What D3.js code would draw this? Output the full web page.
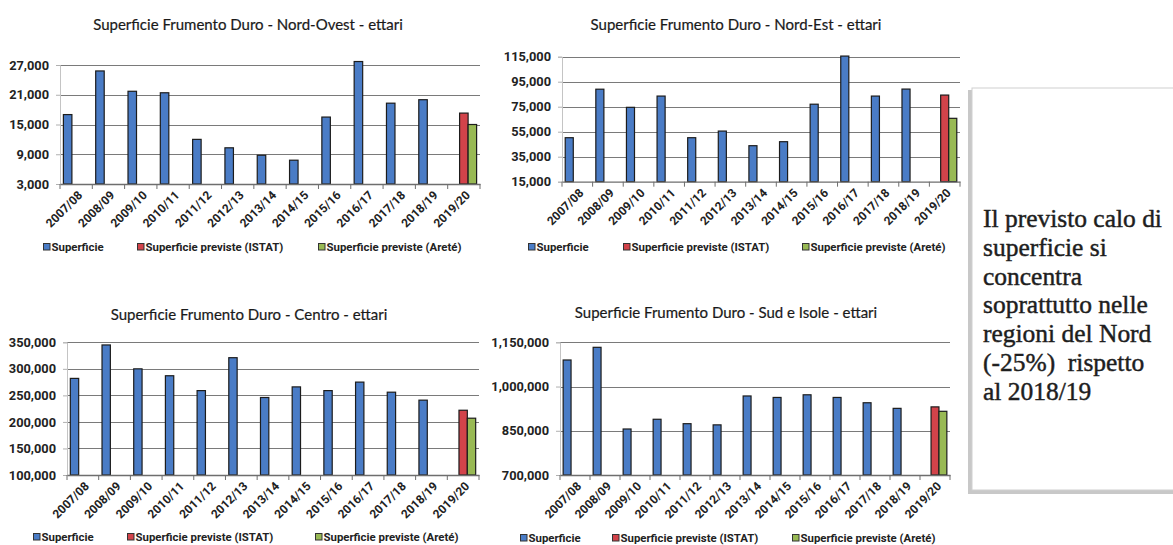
<!DOCTYPE html>
<html>
<head>
<meta charset="utf-8">
<script src="https://cdn.jsdelivr.net/npm/d3@7"></script>
<style>
  html, body { margin: 0; padding: 0; background: #ffffff; }
  svg { display: block; }
</style>
</head>
<body>
<svg id="chart" width="1173" height="545"></svg>
<script>
// Campaigns on the category axis
const categories = ["2007/08","2008/09","2009/10","2010/11","2011/12","2012/13","2013/14",
                    "2014/15","2015/16","2016/17","2017/18","2018/19","2019/20"];
const seriesNames = ["Superficie", "Superficie previste (ISTAT)", "Superficie previste (Areté)"];

// Durum wheat area (hectares) by macro-area; last campaign only has forecasts
const nordOvest      = [17000, 25800, 21700, 21400, 12000, 10300, 8800, 7800, 16500, 27700, 19300, 20000, null];
const nordOvestIstat = 17300;
const nordOvestArete = 15000;
const nordOvestTicks = [3000, 9000, 15000, 21000, 27000];

const nordEst        = [50200, 89000, 74500, 83500, 50200, 55500, 43800, 47000, 77000, 115500, 83500, 89100, null];
const nordEstIstat   = 84300;
const nordEstArete   = 65700;
const nordEstTicks   = [15000, 35000, 55000, 75000, 95000, 115000];

const centro         = [282000, 345000, 300000, 287000, 259000, 321000, 246000, 266000, 259000, 275000, 256000, 241000, null];
const centroIstat    = 222000;
const centroArete    = 207000;
const centroTicks    = [100000, 150000, 200000, 250000, 300000, 350000];

const sudIsole       = [1090000, 1133000, 856000, 889000, 874000, 870000, 968000, 963000, 972000, 963000, 945000, 926000, null];
const sudIsoleIstat  = 931000;
const sudIsoleArete  = 916000;
const sudIsoleTicks  = [700000, 850000, 1000000, 1150000];

const noteLines = ["Il previsto calo di", "superficie si", "concentra", "soprattutto nelle",
                   "regioni del Nord", "(-25%)  rispetto", "al 2018/19"];

const seriesColors = ["#4a7cc6", "#d2434a", "#98b954"];

// Panel placement on the page
const panels = [
  { title: "Superficie Frumento Duro - Nord-Ovest - ettari", values: nordOvest, istat: nordOvestIstat, arete: nordOvestArete, ticks: nordOvestTicks,
    x0: 60, x1: 480, yTop: 65, yBase: 184, titleX: 248, titleY: 30, legendY: 247, legendX: [43, 137, 318] },
  { title: "Superficie Frumento Duro - Nord-Est - ettari", values: nordEst, istat: nordEstIstat, arete: nordEstArete, ticks: nordEstTicks,
    x0: 562, x1: 960, yTop: 56.7, yBase: 181.7, titleX: 736, titleY: 30, legendY: 247, legendX: [528, 623, 802] },
  { title: "Superficie Frumento Duro - Centro - ettari", values: centro, istat: centroIstat, arete: centroArete, ticks: centroTicks,
    x0: 67, x1: 479, yTop: 342.3, yBase: 475, titleX: 249, titleY: 320, legendY: 537, legendX: [33, 127, 315] },
  { title: "Superficie Frumento Duro - Sud e Isole - ettari", values: sudIsole, istat: sudIsoleIstat, arete: sudIsoleArete, ticks: sudIsoleTicks,
    x0: 560, x1: 950, yTop: 342.3, yBase: 475, titleX: 726, titleY: 318, legendY: 538, legendX: [520, 612, 792] }
];

const svg = d3.select("#chart");
const TITLE_FONT = "Lato, 'Open Sans', sans-serif";
const LABEL_FONT = "Roboto, 'Open Sans', sans-serif";

// Side note box
const box = svg.append("g");
box.append("rect").attr("x", 968).attr("y", 90).attr("width", 220).attr("height", 404)
  .attr("fill", "#9a9a9a").attr("opacity", 0.55);
box.append("rect").attr("x", 972).attr("y", 88).attr("width", 210).attr("height", 402)
  .attr("fill", "#ffffff").attr("stroke", "#cfcfcf").attr("stroke-width", 1);

const note = box.append("text")
  .attr("font-family", "'Liberation Serif', 'DejaVu Serif', serif")
  .attr("fill", "#1e1e1e")
  .attr("stroke", "#1e1e1e").attr("stroke-width", 0.45)
  .style("white-space", "pre");
noteLines.forEach((line, i) => {
  note.append("tspan").attr("x", 983).attr("y", 227 + i * 28.8).text(line);
});
// size the note so its first line spans the box width
note.attr("font-size", 20);
const firstLen = note.select("tspan").node().getComputedTextLength();
note.attr("font-size", 20 * 179 / firstLen);

function drawPanel(p) {
  const g = svg.append("g");

  const rows = [];
  categories.forEach((c, i) => {
    if (p.values[i] != null) rows.push({ cat: c, series: seriesNames[0], value: p.values[i] });
  });
  const last = categories[categories.length - 1];
  rows.push({ cat: last, series: seriesNames[1], value: p.istat });
  rows.push({ cat: last, series: seriesNames[2], value: p.arete });

  const x = d3.scaleBand().domain(categories).range([p.x0, p.x1])
    .paddingInner(0.21).paddingOuter(0.105);
  const xs = d3.scaleBand().domain(seriesNames).range([0, x.bandwidth()]);
  const y = d3.scaleLinear().domain([p.ticks[0], p.ticks[p.ticks.length - 1]]).range([p.yBase, p.yTop]);

  // title
  g.append("text").attr("x", p.titleX).attr("y", p.titleY)
    .attr("text-anchor", "middle").attr("font-family", TITLE_FONT).attr("font-size", 15)
    .attr("fill", "#1a1a1a").attr("stroke", "#1a1a1a").attr("stroke-width", 0.2).text(p.title);

  // horizontal gridlines
  g.append("g").selectAll("line").data(p.ticks.slice(1)).join("line")
    .attr("x1", p.x0).attr("x2", p.x1)
    .attr("y1", d => Math.round(y(d)) + 0.5).attr("y2", d => Math.round(y(d)) + 0.5)
    .attr("stroke", "#7a7a7a").attr("stroke-width", 1);

  // value axis
  const yAxis = g.append("g").attr("transform", `translate(${p.x0},0)`)
    .call(d3.axisLeft(y).tickValues(p.ticks).tickFormat(d3.format(",")).tickSize(4).tickPadding(7));
  yAxis.select(".domain").attr("stroke", "#c4c4c4");
  yAxis.selectAll(".tick line").attr("stroke", "#b0b0b0");
  yAxis.selectAll(".tick text").attr("font-family", LABEL_FONT).attr("font-size", 12.8)
    .attr("font-weight", 700).attr("fill", "#222");

  // bars
  g.append("g").selectAll("rect").data(rows).join("rect")
    .attr("x", d => x(d.cat) + xs(d.series))
    .attr("width", xs.bandwidth())
    .attr("y", d => y(d.value))
    .attr("height", d => p.yBase - y(d.value))
    .attr("fill", d => seriesColors[seriesNames.indexOf(d.series)])
    .attr("stroke", "#1c1c1c").attr("stroke-width", 1.2);

  // category axis: baseline, tick marks between categories, rotated labels
  const xAxis = g.append("g").attr("transform", `translate(0,${p.yBase})`)
    .call(d3.axisBottom(x).tickSize(0).tickPadding(0));
  xAxis.select(".domain").attr("stroke", "#6e6e6e").attr("stroke-width", 1.3);
  const half = (x.step() - x.bandwidth()) / 2;
  const bounds = categories.map(c => x(c) - half).concat([x(last) + x.bandwidth() + half]);
  xAxis.selectAll(".sep").data(bounds).join("line").attr("class", "sep")
    .attr("x1", d => d).attr("x2", d => d).attr("y1", 0).attr("y2", 5)
    .attr("stroke", "#6e6e6e").attr("stroke-width", 1);
  xAxis.selectAll(".tick text")
    .attr("font-family", LABEL_FONT).attr("font-size", 12).attr("font-weight", 700).attr("fill", "#222")
    .attr("text-anchor", "end").attr("dy", null).attr("y", 0)
    .attr("transform", "translate(7,12) rotate(-45)");

  // legend
  const lg = g.append("g").attr("font-family", LABEL_FONT).attr("font-size", 11.4).attr("font-weight", 700);
  seriesNames.forEach((s, i) => {
    const lx = p.legendX[i];
    lg.append("rect").attr("x", lx + 0.5).attr("y", p.legendY - 3.5).attr("width", 6.5).attr("height", 6.5)
      .attr("fill", seriesColors[i]).attr("stroke", "#333").attr("stroke-width", 1);
    lg.append("text").attr("x", lx + 8.5).attr("y", p.legendY + 4).attr("fill", "#222").text(s);
  });
}

panels.forEach(drawPanel);
</script>
</body>
</html>
